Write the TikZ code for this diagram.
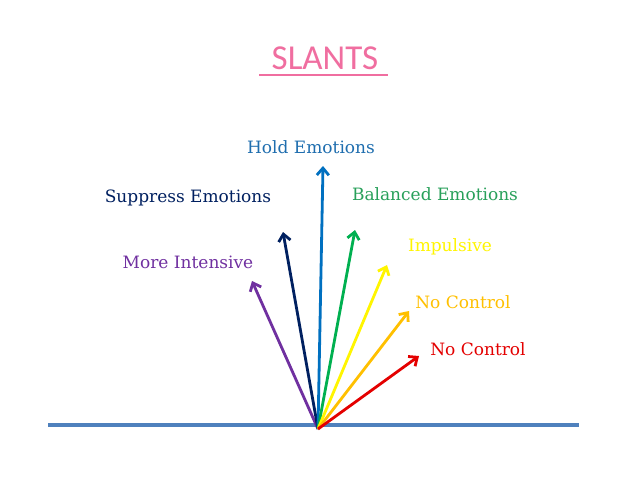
\documentclass[tikz,border=0pt]{standalone}
\usepackage{fontspec}
\setmainfont{DejaVu Serif}
\newfontfamily\titlefont{Carlito}
\usetikzlibrary{arrows.meta}
\definecolor{cpurple}{RGB}{112,48,160}
\definecolor{cnavy}{RGB}{0,32,96}
\definecolor{cblue}{RGB}{0,112,192}
\definecolor{cgreen}{RGB}{0,176,80}
\definecolor{cyellow}{RGB}{255,245,0}
\definecolor{corange}{RGB}{255,192,0}
\definecolor{cred}{RGB}{228,0,0}
\definecolor{cground}{RGB}{79,129,189}
\definecolor{cpink}{RGB}{240,110,160}
\definecolor{cbluetext}{RGB}{31,110,175}
\definecolor{cgreentext}{RGB}{40,160,90}
\tikzset{
  vec/.style={line width=2.8pt, -{Straight Barb[length=7pt,width=12pt,line width=2.8pt]}},
  lbl/.style={inner sep=0pt, font=\fontsize{17}{20}\selectfont},
}
\begin{document}
\begin{tikzpicture}[x=1pt,y=-1pt]
\useasboundingbox (0,0) rectangle (638,479);
\fill[white] (0,0) rectangle (638,479);
% title
\node[inner sep=0pt, text=cpink, font=\titlefont\fontsize{35}{38}\selectfont] (title) at (325,58) {SLANTS};
\coordinate (ulA) at (259,75);
\coordinate (ulB) at (388,75);
\draw[cpink, line width=2pt] (ulA) -- (ulB);
% ground
\coordinate (gA) at (48,425);
\coordinate (gB) at (579,425);
\draw[cground, line width=4pt] (gA) -- (gB);
% origin and tips
\coordinate (o) at (318,429);
\coordinate (tpurple) at (252,281);
\coordinate (tnavy) at (283,232);
\coordinate (tblue) at (323,166);
\coordinate (tgreen) at (355,230);
\coordinate (tyellow) at (387,265);
\coordinate (torange) at (409,311);
\coordinate (tred) at (419,356);
\draw[vec, cpurple] (o) -- (tpurple);
\draw[vec, cnavy] (o) -- (tnavy);
\draw[vec, cblue] (o) -- (tblue);
\draw[vec, cgreen] (o) -- (tgreen);
\draw[vec, cyellow] (o) -- (tyellow);
\draw[vec, corange] (o) -- (torange);
\draw[vec, cred] (o) -- (tred);
% labels
\node[lbl, text=cbluetext] (lhold) at (311,147) {Hold Emotions};
\node[lbl, text=cnavy] (lsupp) at (188,198) {Suppress Emotions};
\node[lbl, text=cgreentext] (lbal) at (435,194) {Balanced Emotions};
\node[lbl, text=cyellow] (limp) at (450,247) {Impulsive};
\node[lbl, text=cpurple] (lmore) at (188,262) {More Intensive};
\node[lbl, text=corange] (lnoc1) at (463,302) {No Control};
\node[lbl, text=cred] (lnoc2) at (478,349) {No Control};
\end{tikzpicture}
\end{document}
